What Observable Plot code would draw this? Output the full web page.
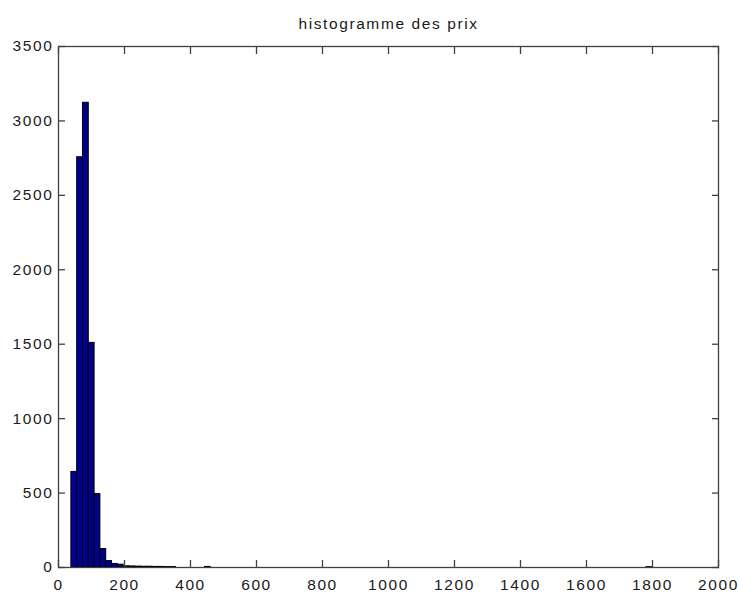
<!DOCTYPE html>
<html>
<head>
<meta charset="utf-8">
<script src="https://cdn.jsdelivr.net/npm/d3@7"></script>
<script src="https://cdn.jsdelivr.net/npm/@observablehq/plot@0.6"></script>
<style>
  html, body { margin: 0; padding: 0; background: #ffffff; }
  #chart svg { display: block; }
</style>
</head>
<body>
<div id="chart"></div>
<script>
// Histogram settings (as in MATLAB hist: 100 equal bins between min and max price)
const priceMin = 39;
const priceMax = 1799;
const nBins = 100;

// Non-empty bins: bin index and count
const binIndex = [0, 1, 2, 3, 4, 5, 6, 7, 8, 9, 10, 11, 12, 13, 14, 15, 16, 17, 23, 99];
const counts   = [642, 2756, 3122, 1509, 493, 124, 43, 24, 19, 8, 7, 6, 5, 5, 4, 4, 3, 3, 4, 2];

const xTicks = [0, 200, 400, 600, 800, 1000, 1200, 1400, 1600, 1800, 2000];
const yTicks = [0, 500, 1000, 1500, 2000, 2500, 3000, 3500];
const title = "histogramme des prix";

const binWidth = (priceMax - priceMin) / nBins;
const bins = binIndex.map((b, i) => ({
  x1: priceMin + b * binWidth,
  x2: priceMin + (b + 1) * binWidth,
  count: counts[i]
}));

const axisColor = "#404040";
const textColor = "#1a1a1a";
const font = "Liberation Sans, Arial, Helvetica, sans-serif";
const fmt = d => String(d);

const chart = Plot.plot({
  width: 739,
  height: 596,
  marginLeft: 58,
  marginRight: 21,
  marginTop: 46,
  marginBottom: 29,
  style: {background: "#ffffff", fontFamily: font, fontSize: "15.5px", color: textColor, letterSpacing: "1.6px"},
  x: {domain: [0, 2000], ticks: xTicks, tickFormat: fmt},
  y: {domain: [0, 3500], ticks: yTicks, tickFormat: fmt},
  marks: [
    Plot.rectY(bins, {x1: "x1", x2: "x2", y: "count", fill: "#00008f", stroke: "#000000", strokeWidth: 1}),
    Plot.frame({stroke: axisColor, strokeWidth: 1.3}),
    Plot.axisX(xTicks, {anchor: "bottom", tickSize: -7, tickPadding: 18, tickFormat: fmt, stroke: axisColor, strokeWidth: 1.3, fill: textColor, label: null}),
    Plot.axisX(xTicks, {anchor: "top", tickSize: -7, tickFormat: () => "", stroke: axisColor, strokeWidth: 1.3, label: null}),
    Plot.axisY(yTicks, {anchor: "left", tickSize: -7, tickPadding: 12, tickFormat: fmt, stroke: axisColor, strokeWidth: 1.3, fill: textColor, label: null}),
    Plot.axisY(yTicks, {anchor: "right", tickSize: -7, tickFormat: () => "", stroke: axisColor, strokeWidth: 1.3, label: null}),
    Plot.text([title], {frameAnchor: "top", dy: -18, text: d => d, fontSize: 15.5, fill: textColor, lineAnchor: "bottom"})
  ]
});

document.getElementById("chart").appendChild(chart);
</script>
</body>
</html>
